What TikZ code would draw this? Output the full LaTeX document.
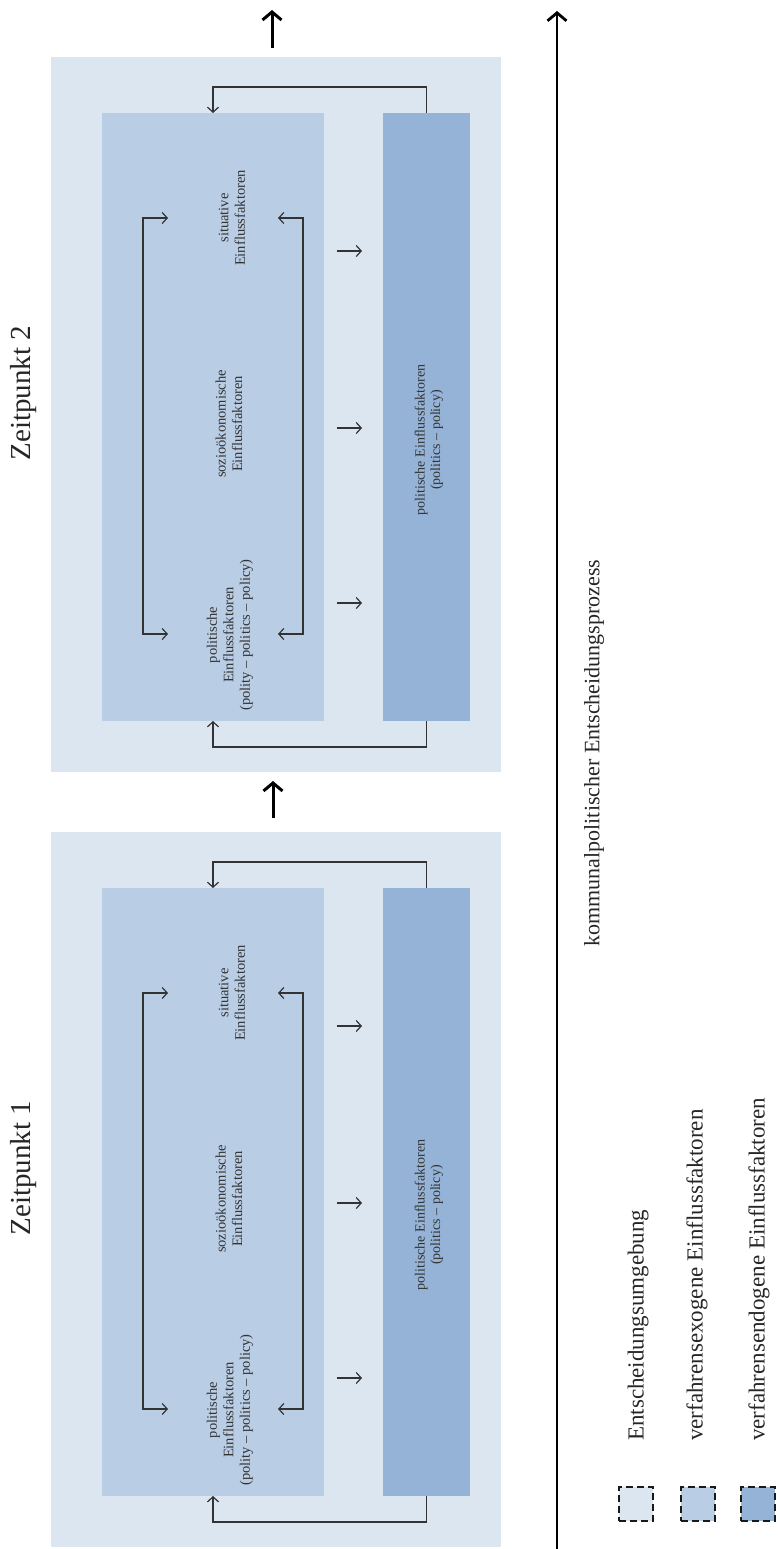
\documentclass[tikz,border=0pt]{standalone}
\usepackage{fontspec}
\setmainfont{Liberation Serif}
\usetikzlibrary{arrows.meta}
\definecolor{envc}{HTML}{DCE6F1}
\definecolor{exoc}{HTML}{B9CDE5}
\definecolor{endoc}{HTML}{95B3D7}
\definecolor{linec}{HTML}{333333}
\begin{document}
\begin{tikzpicture}[x=1pt,y=-1pt,
  box/.style={inner sep=0pt, outer sep=0pt, anchor=north west, draw=none},
  lbl/.style={rotate=90, align=center, text=linec, inner sep=0pt, font=\fontsize{14.5}{16.5}\selectfont},
  conn/.style={draw=linec, line width=1.2pt, -{Straight Barb[length=5pt,width=11pt]}},
  dconn/.style={draw=linec, line width=1.2pt, {Straight Barb[length=5pt,width=11pt]}-{Straight Barb[length=5pt,width=11pt]}},
  bigarrow/.style={draw=black, line width=3pt, -{Straight Barb[length=8pt,width=19pt]}},
  title/.style={rotate=90, inner sep=0pt, text=black!85, font=\fontsize{29}{34}\selectfont},
  leg/.style={rotate=90, inner sep=0pt, text=black!85, font=\fontsize{23}{27}\selectfont},
  legbox/.style={draw=black!90, line width=2.5pt, dash pattern=on 7pt off 4pt, minimum size=34pt, inner sep=0pt}
]
\useasboundingbox (0,0) rectangle (778,1549);

\foreach \p/\dy in {1/775,2/0}{
  % boxes
  \node[box, fill=envc, minimum width=450pt, minimum height=715pt] (env\p) at (51,57+\dy) {};
  \node[box, fill=exoc, minimum width=222pt, minimum height=608pt] (exo\p) at (102,113+\dy) {};
  \node[box, fill=endoc, minimum width=87pt, minimum height=608pt] (endo\p) at (383,113+\dy) {};
  % texts
  \node[lbl] (sit\p) at (232,218+\dy) {situative\\Einflussfaktoren};
  \node[lbl] (soz\p) at (229,424+\dy) {sozioökonomische\\Einflussfaktoren};
  \node[lbl] (pol\p) at (230,635+\dy) {politische\\Einflussfaktoren\\(polity – politics – policy)};
  \node[lbl, font=\fontsize{14}{15.5}\selectfont] (endt\p) at (429,440+\dy) {politische Einflussfaktoren\\(politics – policy)};
  % feedback connectors
  \draw[conn] (endo\p.north) -- ++(0,-26) -| (exo\p.north);
  \draw[conn] (endo\p.south) -- ++(0,26) -| (exo\p.south);
  % inner loops
  \coordinate (la\p) at (168,218+\dy);
  \coordinate (lb\p) at (168,634+\dy);
  \coordinate (ra\p) at (278,218+\dy);
  \coordinate (rb\p) at (278,634+\dy);
  \draw[dconn] (la\p) -- ++(-25,0) |- (lb\p);
  \draw[dconn] (ra\p) -- ++(25,0) |- (rb\p);
  % small arrows exo -> endo
  \foreach \yy [count=\k] in {251,428,603}{
    \coordinate (sa\p\k) at (337,\yy+\dy);
    \coordinate (sb\p\k) at (362,\yy+\dy);
    \draw[conn] (sa\p\k) -- (sb\p\k);
  }
}

% titles
\node[title] (zp1) at (24,1168) {Zeitpunkt 1};
\node[title] (zp2) at (24,393) {Zeitpunkt 2};

% big arrows
\coordinate (ba1) at (273,818);
\coordinate (bb1) at (273,781);
\coordinate (ba2) at (272,48);
\coordinate (bb2) at (272,10);
\draw[bigarrow] (ba1) -- (bb1);
\draw[bigarrow] (ba2) -- (bb2);

% process axis
\coordinate (axs) at (557,1549);
\coordinate (axe) at (557,11);
\draw[bigarrow, line width=2.8pt] (axs) -- (axe);
\node[leg, font=\fontsize{22}{26}\selectfont] (axl) at (594,753) {kommunalpolitischer Entscheidungsprozess};

% legend
\node[legbox, fill=envc] (lg1) at (636,1504) {};
\node[legbox, fill=exoc] (lg2) at (698,1504) {};
\node[legbox, fill=endoc] (lg3) at (758,1504) {};
\node[leg, anchor=west] (lt1) at (638,1441) {Entscheidungsumgebung};
\node[leg, anchor=west] (lt2) at (697,1441) {verfahrensexogene Einflussfaktoren};
\node[leg, anchor=west] (lt3) at (759,1441) {verfahrensendogene Einflussfaktoren};
\end{tikzpicture}
\end{document}
